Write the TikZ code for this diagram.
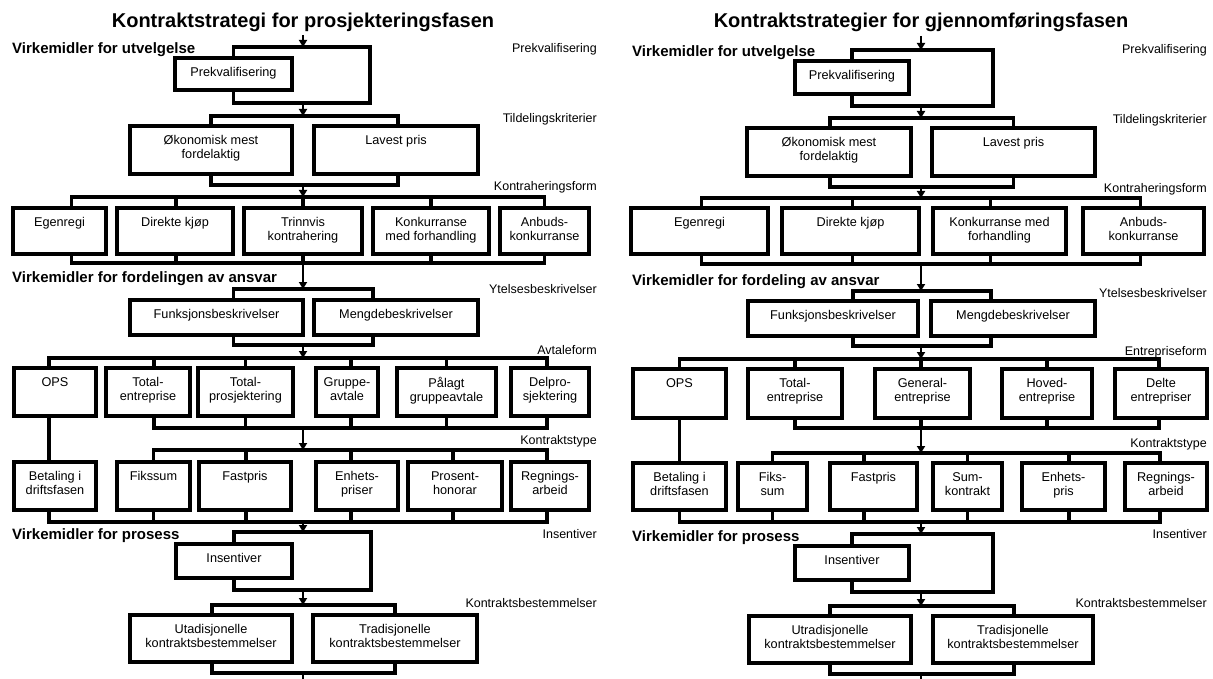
\documentclass[tikz,border=0pt]{standalone}
\usepackage{fontspec}
\setmainfont{Liberation Sans}
\usetikzlibrary{arrows.meta}

\tikzset{
  bus/.style={line width=3.3pt, line join=miter, line cap=rect},
  flow/.style={line width=1.8pt, -{Triangle[width=8pt,length=7pt]}},
  boxn/.style={draw, line width=3.3pt, fill=white, rectangle, inner sep=0pt, outer sep=0pt},
  boxt/.style={font=\fontsize{12.7}{14}\selectfont, align=center, inner sep=0pt},
  side/.style={font=\fontsize{12.5}{14}\selectfont, anchor=base east, inner sep=0pt},
  head/.style={font=\bfseries\fontsize{15}{18}\selectfont, anchor=base west, inner sep=0pt},
  ttl/.style={font=\bfseries\fontsize{20}{24}\selectfont, anchor=base, inner sep=0pt},
}

% box: name, x1, y1, x2, y2, text (text sits at the top of the box)
\newcommand\bx[6]{%
  \node[boxn, minimum width={(#4)-(#2)}, minimum height={(#5)-(#3)}] (#1) at ({((#2)+(#4))/2},{((#3)+(#5))/2}) {};
  \node[boxt, anchor=north] (#1-t) at ([yshift=-9.5pt]#1.north) {#6};}

\begin{document}
\begin{tikzpicture}[x=1pt,y=-1pt]
\useasboundingbox (0,0) rectangle (1213,679);
\fill[white] (0,0) rectangle (1213,679);
\clip (0,0) rectangle (1213,679);

% ================= left panel =================
\node[ttl] (Lttl) at (303,28) {Kontraktstrategi for prosjekteringsfasen};
\node[head] (Lh1) at (12,54) {Virkemidler for utvelgelse};
\node[head] (Lh2) at (12,283) {Virkemidler for fordelingen av ansvar};
\node[head] (Lh3) at (12,539) {Virkemidler for prosess};

\node[side] (Ls1) at (597,53) {Prekvalifisering};
\node[side] (Ls2) at (597,123) {Tildelingskriterier};
\node[side] (Ls3) at (597,191) {Kontraheringsform};
\node[side] (Ls4) at (597,294) {Ytelsesbeskrivelser};
\node[side] (Ls5) at (597,354) {Avtaleform};
\node[side] (Ls6) at (597,444) {Kontraktstype};
\node[side] (Ls7) at (597,538) {Insentiver};
\node[side] (Ls8) at (597,607) {Kontraktsbestemmelser};

\coordinate (L0) at (303,35);
\coordinate (L1t) at (303,47); \coordinate (L1r) at (370,103); \coordinate (L1b) at (303,103);
\coordinate (L2t) at (303,116); \coordinate (L2b) at (303,185);
\coordinate (L3t) at (303,197); \coordinate (L3b) at (303,263);
\coordinate (L4t) at (303,289); \coordinate (L4b) at (303,345);
\coordinate (L5t) at (303,358); \coordinate (L5b) at (303,428);
\coordinate (L6t) at (303,450); \coordinate (L6b) at (303,522);
\coordinate (L7t) at (303,532); \coordinate (L7r) at (371,590); \coordinate (L7b) at (303,590);
\coordinate (L8t) at (303,605); \coordinate (L8b) at (303,673);
\coordinate (L9) at (303,690);

\bx{Lpre}{175}{58}{292}{90}{Prekvalifisering}
\bx{Lok}{130}{126}{292}{174}{Økonomisk mest\\fordelaktig}
\bx{Llav}{314}{126}{478}{174}{Lavest pris}
\bx{Legen}{13}{208}{106}{254}{Egenregi}
\bx{Ldir}{117}{208}{233}{254}{Direkte kjøp}
\bx{Ltrin}{244}{208}{362}{254}{Trinnvis\\kontrahering}
\bx{Lkonk}{373}{208}{489}{254}{Konkurranse\\med forhandling}
\bx{Lanb}{500}{208}{589}{254}{Anbuds-\\konkurranse}
\bx{Lfunk}{130}{300}{303}{335}{Funksjonsbeskrivelser}
\bx{Lmeng}{314}{300}{478}{335}{Mengdebeskrivelser}
\bx{Lops}{14}{368}{96}{416}{OPS}
\bx{Ltot}{106}{368}{190}{416}{Total-\\entreprise}
\bx{Ltpro}{198}{368}{293}{416}{Total-\\prosjektering}
\bx{Lgrp}{316}{368}{378}{416}{Gruppe-\\avtale}
\bx{Lpal}{397}{368}{496}{416}{Pålagt\\gruppeavtale}
\bx{Ldel}{511}{368}{589}{416}{Delpro-\\sjektering}
\bx{Lbet}{14}{462}{96}{510}{Betaling i\\driftsfasen}
\bx{Lfiks}{117}{462}{190}{510}{Fikssum}
\bx{Lfast}{199}{462}{291}{510}{Fastpris}
\bx{Lenh}{316}{462}{398}{510}{Enhets-\\priser}
\bx{Lpros}{408}{462}{502}{510}{Prosent-\\honorar}
\bx{Lregn}{511}{462}{589}{510}{Regnings-\\arbeid}
\bx{Lins}{176}{544}{292}{578}{Insentiver}
\bx{Lutr}{130}{615}{292}{662}{Utadisjonelle\\kontraktsbestemmelser}
\bx{Ltrd}{313}{615}{477}{662}{Tradisjonelle\\kontraktsbestemmelser}

% buses and arms
\draw[bus] (Lpre.north) |- (L1t) -| (L1r) -| (Lpre.south);
\foreach \b/\d in {Lok/0,Llav/2}
  {\draw[bus] ([xshift=\d pt]\b.north) |- (L2t); \draw[bus] ([xshift=\d pt]\b.south) |- (L2b);}
\foreach \b/\d in {Legen/12,Ldir/1,Ltrin/0,Lkonk/0,Lanb/0}
  {\draw[bus] ([xshift=\d pt]\b.north) |- (L3t); \draw[bus] ([xshift=\d pt]\b.south) |- (L3b);}
\foreach \b/\d in {Lfunk/17,Lmeng/-23}
  {\draw[bus] ([xshift=\d pt]\b.north) |- (L4t); \draw[bus] ([xshift=\d pt]\b.south) |- (L4b);}
\foreach \b/\d in {Lops/-6,Ltot/6,Ltpro/0,Lgrp/4,Lpal/0,Ldel/-3}
  \draw[bus] ([xshift=\d pt]\b.north) |- (L5t);
\foreach \b/\d in {Ltot/6,Ltpro/0,Lgrp/4,Lpal/0,Ldel/-3}
  \draw[bus] ([xshift=\d pt]\b.south) |- (L5b);
\draw[bus] ([xshift=-6pt]Lops.south) -- ([xshift=-6pt]Lbet.north);
\foreach \b/\d in {Lfiks/0,Lfast/1,Lenh/-6,Lpros/-2,Lregn/-3}
  \draw[bus] ([xshift=\d pt]\b.north) |- (L6t);
\foreach \b/\d in {Lbet/-6,Lfiks/0,Lfast/1,Lenh/-6,Lpros/-2,Lregn/-3}
  \draw[bus] ([xshift=\d pt]\b.south) |- (L6b);
\draw[bus] (Lins.north) |- (L7t) -| (L7r) -| (Lins.south);
\foreach \b/\d in {Lutr/1,Ltrd/0}
  {\draw[bus] ([xshift=\d pt]\b.north) |- (L8t); \draw[bus] ([xshift=\d pt]\b.south) |- (L8b);}

% flow arrows
\draw[flow] (L0) -- (L1t);
\draw[flow] (L1b) -- (L2t);
\draw[flow] (L2b) -- (L3t);
\draw[flow] (L3b) -- (L4t);
\draw[flow] (L4b) -- (L5t);
\draw[flow] (L5b) -- (L6t);
\draw[flow] (L6b) -- (L7t);
\draw[flow] (L7b) -- (L8t);
\draw[flow] (L8b) -- (L9);

% ================= right panel =================
\node[ttl] (Rttl) at (921,28) {Kontraktstrategier for gjennomføringsfasen};
\node[head] (Rh1) at (632,57) {Virkemidler for utvelgelse};
\node[head] (Rh2) at (632,285) {Virkemidler for fordeling av ansvar};
\node[head] (Rh3) at (632,541) {Virkemidler for prosess};

\node[side] (Rs1) at (1207,54) {Prekvalifisering};
\node[side] (Rs2) at (1207,124) {Tildelingskriterier};
\node[side] (Rs3) at (1207,193) {Kontraheringsform};
\node[side] (Rs4) at (1207,298) {Ytelsesbeskrivelser};
\node[side] (Rs5) at (1207,355) {Entrepriseform};
\node[side] (Rs6) at (1207,447) {Kontraktstype};
\node[side] (Rs7) at (1207,538) {Insentiver};
\node[side] (Rs8) at (1207,607) {Kontraktsbestemmelser};

\coordinate (R0) at (921,36);
\coordinate (R1t) at (921,50); \coordinate (R1r) at (993,106); \coordinate (R1b) at (921,106);
\coordinate (R2t) at (921,118); \coordinate (R2b) at (921,187);
\coordinate (R3t) at (921,198); \coordinate (R3b) at (921,264);
\coordinate (R4t) at (921,291); \coordinate (R4b) at (921,346);
\coordinate (R5t) at (921,359); \coordinate (R5b) at (921,428);
\coordinate (R6t) at (921,453); \coordinate (R6b) at (921,522);
\coordinate (R7t) at (921,534); \coordinate (R7r) at (993,592); \coordinate (R7b) at (921,592);
\coordinate (R8t) at (921,606); \coordinate (R8b) at (921,674);
\coordinate (R9) at (921,690);

\bx{Rpre}{795}{61}{909}{94}{Prekvalifisering}
\bx{Rok}{747}{128}{911}{176}{Økonomisk mest\\fordelaktig}
\bx{Rlav}{932}{128}{1095}{176}{Lavest pris}
\bx{Regen}{631}{208}{768}{254}{Egenregi}
\bx{Rdir}{782}{208}{919}{254}{Direkte kjøp}
\bx{Rkonk}{933}{208}{1066}{254}{Konkurranse med\\forhandling}
\bx{Ranb}{1083}{208}{1204}{254}{Anbuds-\\konkurranse}
\bx{Rfunk}{748}{301}{918}{336}{Funksjonsbeskrivelser}
\bx{Rmeng}{931}{301}{1095}{336}{Mengdebeskrivelser}
\bx{Rops}{633}{369}{726}{418}{OPS}
\bx{Rtot}{748}{369}{842}{418}{Total-\\entreprise}
\bx{Rgen}{875}{369}{970}{418}{General-\\entreprise}
\bx{Rhov}{1002}{369}{1092}{418}{Hoved-\\entreprise}
\bx{Rdel}{1115}{369}{1207}{418}{Delte\\entrepriser}
\bx{Rbet}{633}{463}{726}{510}{Betaling i\\driftsfasen}
\bx{Rfiks}{738}{463}{807}{510}{Fiks-\\sum}
\bx{Rfast}{830}{463}{917}{510}{Fastpris}
\bx{Rsum}{933}{463}{1002}{510}{Sum-\\kontrakt}
\bx{Renh}{1022}{463}{1105}{510}{Enhets-\\pris}
\bx{Rregn}{1125}{463}{1207}{510}{Regnings-\\arbeid}
\bx{Rins}{795}{546}{909}{580}{Insentiver}
\bx{Rutr}{749}{616}{911}{663}{Utradisjonelle\\kontraktsbestemmelser}
\bx{Rtrd}{933}{616}{1093}{663}{Tradisjonelle\\kontraktsbestemmelser}

% buses and arms
\draw[bus] (Rpre.north) |- (R1t) -| (R1r) -| (Rpre.south);
\foreach \b/\d in {Rok/1,Rlav/0}
  {\draw[bus] ([xshift=\d pt]\b.north) |- (R2t); \draw[bus] ([xshift=\d pt]\b.south) |- (R2b);}
\foreach \b/\d in {Regen/2,Rdir/2,Rkonk/-9,Ranb/-3}
  {\draw[bus] ([xshift=\d pt]\b.north) |- (R3t); \draw[bus] ([xshift=\d pt]\b.south) |- (R3b);}
\foreach \b/\d in {Rfunk/20,Rmeng/-22}
  {\draw[bus] ([xshift=\d pt]\b.north) |- (R4t); \draw[bus] ([xshift=\d pt]\b.south) |- (R4b);}
\foreach \b/\d in {Rops/0,Rtot/0,Rgen/-1.5,Rhov/0,Rdel/-2}
  \draw[bus] ([xshift=\d pt]\b.north) |- (R5t);
\foreach \b/\d in {Rtot/0,Rgen/-1.5,Rhov/0,Rdel/-2}
  \draw[bus] ([xshift=\d pt]\b.south) |- (R5b);
\draw[bus] (Rops.south) -- (Rbet.north);
\foreach \b/\d in {Rfiks/0,Rfast/-9.5,Rsum/0,Renh/5.5,Rregn/-6}
  \draw[bus] ([xshift=\d pt]\b.north) |- (R6t);
\foreach \b/\d in {Rbet/0,Rfiks/0,Rfast/-9.5,Rsum/0,Renh/5.5,Rregn/-6}
  \draw[bus] ([xshift=\d pt]\b.south) |- (R6b);
\draw[bus] (Rins.north) |- (R7t) -| (R7r) -| (Rins.south);
\foreach \b/\d in {Rutr/0,Rtrd/1}
  {\draw[bus] ([xshift=\d pt]\b.north) |- (R8t); \draw[bus] ([xshift=\d pt]\b.south) |- (R8b);}

% flow arrows
\draw[flow] (R0) -- (R1t);
\draw[flow] (R1b) -- (R2t);
\draw[flow] (R2b) -- (R3t);
\draw[flow] (R3b) -- (R4t);
\draw[flow] (R4b) -- (R5t);
\draw[flow] (R5b) -- (R6t);
\draw[flow] (R6b) -- (R7t);
\draw[flow] (R7b) -- (R8t);
\draw[flow] (R8b) -- (R9);
\end{tikzpicture}
\end{document}
